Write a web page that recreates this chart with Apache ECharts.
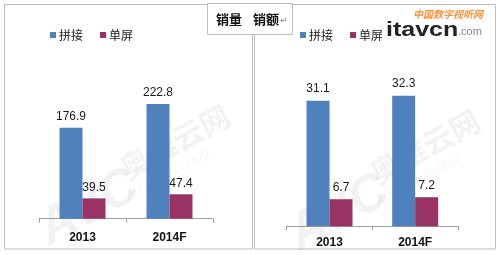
<!DOCTYPE html>
<html>
<head>
<meta charset="utf-8">
<script src="https://cdn.jsdelivr.net/npm/echarts@6/dist/echarts.min.js"></script>
<style>
html,body{margin:0;padding:0;background:#fff;}
#c{width:500px;height:255px;}
</style>
</head>
<body>
<div id="c"></div>
<script>
var categories = ['2013', '2014F'];
var seriesNames = ['拼接', '单屏'];
var volumeSplice = [176.9, 222.8];
var volumeSingle = [39.5, 47.4];
var salesSplice = [31.1, 32.3];
var salesSingle = [6.7, 7.2];
var panelTitles = ['销量', '销额'];

var BLUE = '#4f81bd';
var RED = '#993366';
var numFont = '"Liberation Sans", Arial, sans-serif';
var cjkFont = '"Noto Sans CJK SC", "Liberation Sans", sans-serif';

var chart = echarts.init(document.getElementById('c'), null, {renderer: 'canvas'});

function labelCfg(dist) {
  return {show: true, position: 'top', distance: dist, color: '#1a1a1a', fontSize: 12, fontFamily: numFont};
}
function xAxisCfg(grid, margin) {
  return {
    type: 'category', gridIndex: grid, data: categories,
    axisLine: {lineStyle: {color: '#a0a0a0', width: 1}},
    axisTick: {show: true, length: 4, lineStyle: {color: '#a0a0a0'}},
    axisLabel: {color: '#111', fontSize: 12, fontWeight: 'bold', fontFamily: numFont, margin: margin}
  };
}
function yAxisCfg(grid, max) {
  return {type: 'value', gridIndex: grid, min: 0, max: max, show: false, splitLine: {show: false}};
}
function legendCfg(left) {
  return {
    data: seriesNames, left: left, top: 29, padding: 0, icon: 'rect', itemWidth: 6, itemHeight: 6,
    itemGap: 17, selectedMode: false,
    textStyle: {fontSize: 12, color: '#1a1a1a', fontFamily: cjkFont, padding: [0, 0, 0, -2]}
  };
}

var wm = 'rgba(0,0,0,0.05)';
function watermark(x, y) {
  return [
    {type: 'text', left: x, top: y, rotation: 0.5, silent: true,
     style: {text: 'AVC', fill: wm, font: 'italic bold 52px "Liberation Sans", sans-serif'}},
    {type: 'text', left: x + 85, top: y - 60, rotation: 0.5, silent: true,
     style: {text: '奥维云网', fill: wm, font: 'bold 30px "Noto Sans CJK SC", sans-serif'}},
    {type: 'text', left: x + 95, top: y - 12, rotation: 0.5, silent: true,
     style: {text: 'ALL VIEW CLOUD', fill: wm, font: 'italic 11px "Liberation Sans", sans-serif'}}
  ];
}

var graphics = [
  {type: 'rect', shape: {x: 4.5, y: 4.5, width: 248, height: 244.5}, style: {fill: 'none', stroke: '#bdbdbd', lineWidth: 1}, z: 0},
  {type: 'rect', shape: {x: 254.5, y: 4.5, width: 241, height: 244.5}, style: {fill: 'none', stroke: '#bdbdbd', lineWidth: 1}, z: 0},
  {type: 'rect', shape: {x: 207.5, y: 3.5, width: 85, height: 31}, style: {fill: '#fff', stroke: '#bdbdbd', lineWidth: 1}, z: 5},
  {type: 'text', x: 229, y: 19, z: 6, style: {text: panelTitles[0], fill: '#111', font: 'bold 13px "Noto Sans CJK SC", sans-serif', textAlign: 'center', textVerticalAlign: 'middle'}},
  {type: 'text', x: 266, y: 19, z: 6, style: {text: panelTitles[1], fill: '#111', font: 'bold 13px "Noto Sans CJK SC", sans-serif', textAlign: 'center', textVerticalAlign: 'middle'}},
  {type: 'text', x: 280, y: 21, z: 6, style: {text: '↵', fill: '#888', font: '9px "DejaVu Sans", sans-serif', textAlign: 'left', textVerticalAlign: 'middle'}},
  {type: 'text', x: 448, y: 14, z: 6, style: {text: '中国数字视听网', fill: '#f7923a', font: 'italic bold 10px "Noto Sans CJK SC", sans-serif', textAlign: 'center', textVerticalAlign: 'middle'}},
  {type: 'text', x: 386, y: 30, scaleX: 1.25, z: 6, style: {text: 'itavcn', fill: '#222', font: 'bold 20px "Liberation Sans", sans-serif', textAlign: 'left', textVerticalAlign: 'middle'}},
  {type: 'text', x: 458, y: 32, z: 6, style: {text: '.com', fill: '#888', font: '11px "Liberation Sans", sans-serif', textAlign: 'left', textVerticalAlign: 'middle'}}
].concat(watermark(30, 160)).concat(watermark(280, 165));

var option = {
  animation: false,
  backgroundColor: '#fff',
  graphic: graphics,
  legend: [legendCfg(50), legendCfg(300)],
  grid: [
    {left: 39, right: 287, top: 90, bottom: 36.3},
    {left: 286.7, right: 42, top: 64.7, bottom: 28.7}
  ],
  xAxis: [xAxisCfg(0, 13), xAxisCfg(1, 10)],
  yAxis: [yAxisCfg(0, 250), yAxisCfg(1, 40)],
  series: [
    {name: seriesNames[0], type: 'bar', xAxisIndex: 0, yAxisIndex: 0, data: volumeSplice, barWidth: 23, barGap: '0%', itemStyle: {color: BLUE}, label: labelCfg(5)},
    {name: seriesNames[1], type: 'bar', xAxisIndex: 0, yAxisIndex: 0, data: volumeSingle, barWidth: 23, barGap: '0%', itemStyle: {color: RED}, label: labelCfg(5)},
    {name: seriesNames[0], type: 'bar', xAxisIndex: 1, yAxisIndex: 1, data: salesSplice, barWidth: 23, barGap: '0%', itemStyle: {color: BLUE}, label: labelCfg(6)},
    {name: seriesNames[1], type: 'bar', xAxisIndex: 1, yAxisIndex: 1, data: salesSingle, barWidth: 23, barGap: '0%', itemStyle: {color: RED}, label: labelCfg(6)}
  ]
};
chart.setOption(option);
</script>
</body>
</html>
